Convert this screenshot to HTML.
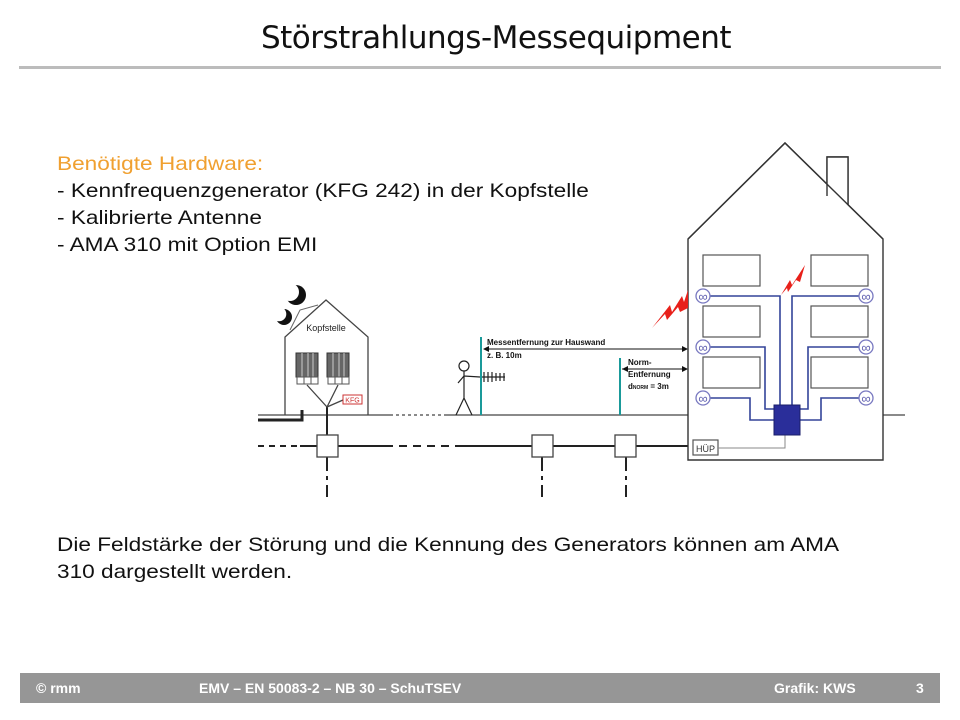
<!DOCTYPE html>
<html><head><meta charset="utf-8"><style>
body{margin:0;width:960px;height:720px;background:#fff;position:relative;overflow:hidden;font-family:"Liberation Sans",sans-serif}
.t{position:absolute;left:16px;width:960px;top:20px;text-align:center;font-size:31px;color:#111;font-family:"DejaVu Sans","Liberation Sans",sans-serif;font-weight:normal;letter-spacing:-0.5px}
.hr{position:absolute;left:19px;top:66px;width:922px;height:3px;background:#bcbcbc}
.txt{position:absolute;left:57px;font-size:19.5px;color:#111;line-height:27px;transform:scaleX(1.16);transform-origin:0 0;white-space:nowrap}
.foot{position:absolute;left:20px;top:673px;width:920px;height:30px;background:#969696;color:#fff;font-weight:bold;font-size:14px}
.foot span{position:absolute;top:7px}
</style></head><body>
<div class="t">Störstrahlungs-Messequipment</div>
<div class="hr"></div>
<div class="txt" style="top:151px"><span style="color:#f0a030">Benötigte Hardware:</span><br>- Kennfrequenzgenerator (KFG 242) in der Kopfstelle<br>- Kalibrierte Antenne<br>- AMA 310 mit Option EMI</div>
<div class="txt" style="top:532px">Die Feldstärke der Störung und die Kennung des Generators können am AMA<br>310 dargestellt werden.</div>
<svg style="position:absolute;left:0;top:0" width="960" height="720" font-family="Liberation Sans,sans-serif">
<g stroke="#444" fill="none" stroke-width="1.3">
<line x1="258" y1="415" x2="390" y2="415"/><line x1="390" y1="415" x2="445" y2="415" stroke-dasharray="3 3"/><line x1="445" y1="415" x2="688" y2="415"/><line x1="883" y1="415" x2="905" y2="415"/>
<g stroke="#222" stroke-width="2"><line x1="258" y1="446" x2="300" y2="446" stroke-dasharray="6 5"/><line x1="300" y1="446" x2="385" y2="446"/><line x1="385" y1="446" x2="460" y2="446" stroke-dasharray="8 6"/><line x1="460" y1="446" x2="690" y2="446"/>
<path d="M258 420 H302 V410" stroke-width="3"/>
<line x1="327" y1="407" x2="327" y2="436"/>
<line x1="327" y1="457" x2="327" y2="497" stroke-dasharray="14 5 4 5"/>
<line x1="542" y1="457" x2="542" y2="497" stroke-dasharray="14 5 4 5"/>
<line x1="626" y1="457" x2="626" y2="497" stroke-dasharray="14 5 4 5"/></g>
<rect x="317" y="435" width="21" height="22" fill="#fff"/><rect x="532" y="435" width="21" height="22" fill="#fff"/><rect x="615" y="435" width="21" height="22" fill="#fff"/>
<path d="M285 415 V337 L326 300 L368 337 V415"/>
<path d="M290 330 L300 310 L318 305" stroke="#666" stroke-width="1"/>
<path d="M307 385 L327 407 L338 385 M327 407 L343 400"/>
</g>
<circle cx="296" cy="295" r="10" fill="#111"/><circle cx="290" cy="292" r="9" fill="#fff"/>
<circle cx="284" cy="317" r="8" fill="#111"/><circle cx="279" cy="314" r="7.3" fill="#fff"/>
<rect x="296" y="353" width="22" height="24" fill="#666" stroke="#333"/><rect x="327" y="353" width="22" height="24" fill="#666" stroke="#333"/>
<g stroke="#ccc"><line x1="302" y1="353" x2="302" y2="377"/><line x1="308" y1="353" x2="308" y2="377"/><line x1="313" y1="353" x2="313" y2="377"/><line x1="333" y1="353" x2="333" y2="377"/><line x1="339" y1="353" x2="339" y2="377"/><line x1="344" y1="353" x2="344" y2="377"/></g>
<g fill="#fff" stroke="#555"><rect x="297" y="377" width="7" height="7"/><rect x="304" y="377" width="7" height="7"/><rect x="311" y="377" width="7" height="7"/><rect x="328" y="377" width="7" height="7"/><rect x="335" y="377" width="7" height="7"/><rect x="342" y="377" width="7" height="7"/></g>
<rect x="343" y="395" width="19" height="9" fill="#fff" stroke="#c33"/><text x="352.5" y="402.5" font-size="7" fill="#c33" text-anchor="middle">KFG</text>
<text x="326" y="331" font-size="9" text-anchor="middle" fill="#222">Kopfstelle</text>
<g stroke="#222" fill="none" stroke-width="1.2"><circle cx="464" cy="366" r="5"/><path d="M464 371 V398 M456 415 L464 398 L472 415 M458 383 L464 376 L480 377"/>
<path d="M480 377 H505 M484 372 V382 M488 372 V382 M492 372 V382 M496 373 V381 M500 373 V381 M504 373 V381"/></g>
<line x1="481" y1="337" x2="481" y2="415" stroke="#1a9a9a" stroke-width="2"/>
<line x1="620" y1="358" x2="620" y2="415" stroke="#1a9a9a" stroke-width="2"/>
<g stroke="#111" stroke-width="1"><line x1="484" y1="349" x2="686" y2="349"/><line x1="622" y1="369" x2="686" y2="369"/></g>
<path d="M483 349 l6 -3 v6z M688 349 l-6 -3 v6z M622 369 l6 -3 v6z M688 369 l-6 -3 v6z" fill="#111"/>
<g font-size="8" font-weight="bold" fill="#111"><text x="487" y="345">Messentfernung zur Hauswand</text><text x="487" y="358">z. B. 10m</text><text x="628" y="365">Norm-</text><text x="628" y="377">Entfernung</text><text x="628" y="389">d<tspan font-size="5">NORM</tspan> = 3m</text></g>
<g stroke="#333" fill="none" stroke-width="1.4">
<path d="M827 205 V157 H848 V205" fill="#fff"/>
<path d="M688 460 V239 L785 143 L883 239 V460 Z" fill="#fff"/>
<path d="M827 196 V157 H848 V205" fill="#fff"/>
<path d="M688 239 L785 143 L883 239"/>
</g>
<g stroke="#555" fill="none" stroke-width="1.2">
<rect x="703" y="255" width="57" height="31"/><rect x="811" y="255" width="57" height="31"/>
<rect x="703" y="306" width="57" height="31"/><rect x="811" y="306" width="57" height="31"/>
<rect x="703" y="357" width="57" height="31"/><rect x="811" y="357" width="57" height="31"/>
<rect x="693" y="440" width="25" height="15"/>
<path d="M718 448 H785 V435" stroke="#888" stroke-width="1"/>
</g>
<text x="705.5" y="452" font-size="9" text-anchor="middle" fill="#333">HÜP</text>
<g stroke="#334499" fill="none" stroke-width="1.6">
<path d="M709 296 H780 V405 M792 405 V296 H860"/>
<path d="M709 347 H765 V409 H774 M800 409 H808 V347 H860"/>
<path d="M709 398 H750 V420 H774 M800 420 H821 V398 H860"/>
</g>
<rect x="774" y="405" width="26" height="30" fill="#2a2e9a" stroke="#1a1e6a"/>
<g stroke="#7878c0" fill="#fff" stroke-width="1.3">
<circle cx="703" cy="296" r="7"/><circle cx="703" cy="347" r="7"/><circle cx="703" cy="398" r="7"/>
<circle cx="866" cy="296" r="7"/><circle cx="866" cy="347" r="7"/><circle cx="866" cy="398" r="7"/></g>
<g font-size="13" fill="#6060b0" text-anchor="middle"><text x="703" y="301">∞</text><text x="703" y="352">∞</text><text x="703" y="403">∞</text><text x="866" y="301">∞</text><text x="866" y="352">∞</text><text x="866" y="403">∞</text></g>
<path d="M652 328 L670 305 L672 312 L682 296 L684 302 L688 290 L688 308 L680 312 L678 307 L667 320 L665 314Z" fill="#e8201a"/>
<path d="M781 295 L790 280 L792 285 L805 265 L800 282 L796 280 L788 292 L787 288Z" fill="#e8201a"/>
</svg>
<div class="foot"><span style="left:16px">© rmm</span><span style="left:179px">EMV – EN 50083-2 – NB 30 – SchuTSEV</span><span style="left:754px">Grafik: KWS</span><span style="left:896px">3</span></div>
</body></html>
